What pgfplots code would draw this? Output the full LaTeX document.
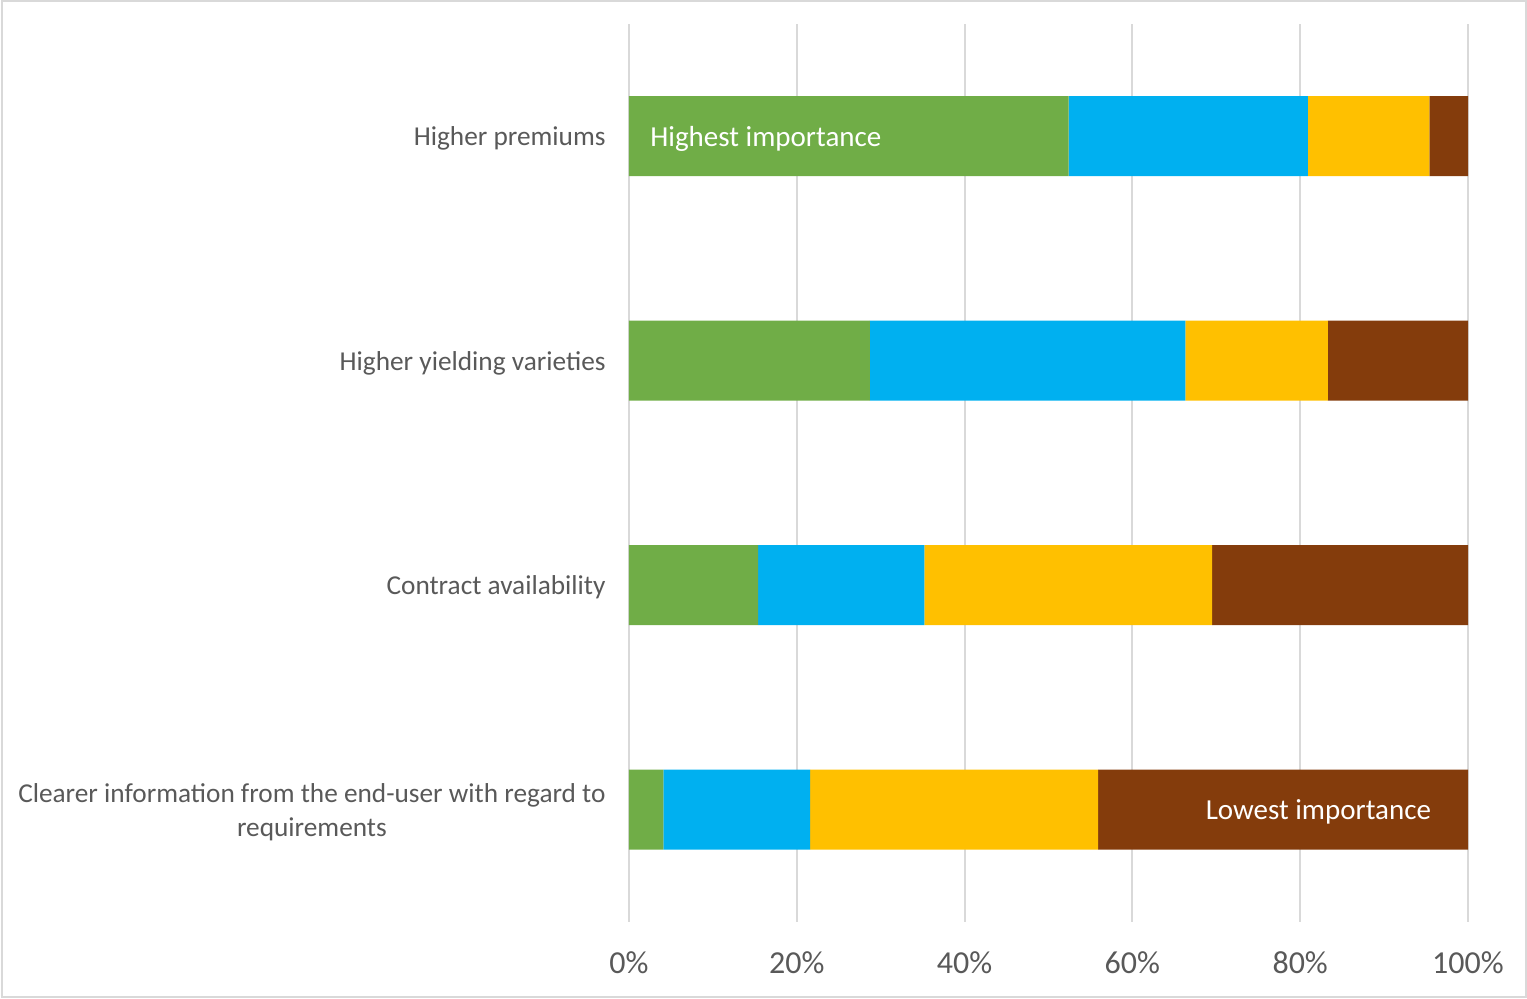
\documentclass[border=0pt]{standalone}
\usepackage{pgfplots}
\pgfplotsset{compat=1.18}
\usepackage{pgfplotstable}
\usepackage{fontspec}
\setmainfont{Carlito}
\definecolor{cgreen}{HTML}{70AD47}
\definecolor{cblue}{HTML}{00B0F0}
\definecolor{cyellow}{HTML}{FFC000}
\definecolor{cbrown}{HTML}{843C0C}
\definecolor{cgrid}{HTML}{D9D9D9}
\definecolor{ctext}{HTML}{595959}
\pgfplotstableread{
y g b yl br
3 52.4 28.5 14.5 4.6
2 28.7 37.6 17.0 16.7
1 15.4 19.8 34.3 30.5
0 4.1 17.5 34.3 44.1
}\data
\begin{document}
\begin{tikzpicture}
\useasboundingbox (0,0) rectangle (763.5pt,499.5pt);
\draw[cgrid, line width=1pt] (0.75pt,0.75pt) rectangle (762.75pt,498.75pt);
\begin{axis}[
 at={(314.5pt,38.5pt)}, anchor=south west,
 scale only axis, width=419.5pt, height=449pt,
 xbar stacked, bar width=40pt,
 xmin=0, xmax=100, ymin=-0.5, ymax=3.5,
 xtick={0,20,40,60,80,100}, xticklabels={0\%,20\%,40\%,60\%,80\%,100\%},
 ytick={0,1,2,3},
 yticklabels={{Clearer information from the end-user with regard to\\requirements},Contract availability,Higher yielding varieties,Higher premiums},
 yticklabel style={align=center, font=\fontsize{13.65}{16.8}\selectfont, text=ctext, xshift=-8.2pt, yshift=-1.2pt},
 xticklabel style={font=\fontsize{16}{19}\selectfont, text=ctext, yshift=-11.5pt},
 major tick length=0pt,
 axis line style={draw=none},
 xmajorgrids, grid style={cgrid, line width=1pt},
]
\addplot[fill=cgreen, draw=none] table[x=g, y=y]{\data};
\addplot[fill=cblue, draw=none] table[x=b, y=y]{\data};
\addplot[fill=cyellow, draw=none] table[x=yl, y=y]{\data};
\addplot[fill=cbrown, draw=none] table[x=br, y=y]{\data};
\coordinate (hi) at (axis cs:2.5,3);
\coordinate (lo) at (axis cs:68.7,0);
\end{axis}
\node[anchor=west, inner sep=0pt, yshift=-1.3pt, text=white, font=\fontsize{14.5}{17}\selectfont] at (hi) {Highest importance};
\node[anchor=west, inner sep=0pt, yshift=-1.3pt, text=white, font=\fontsize{14.5}{17}\selectfont] at (lo) {Lowest importance};
\end{tikzpicture}
\end{document}
